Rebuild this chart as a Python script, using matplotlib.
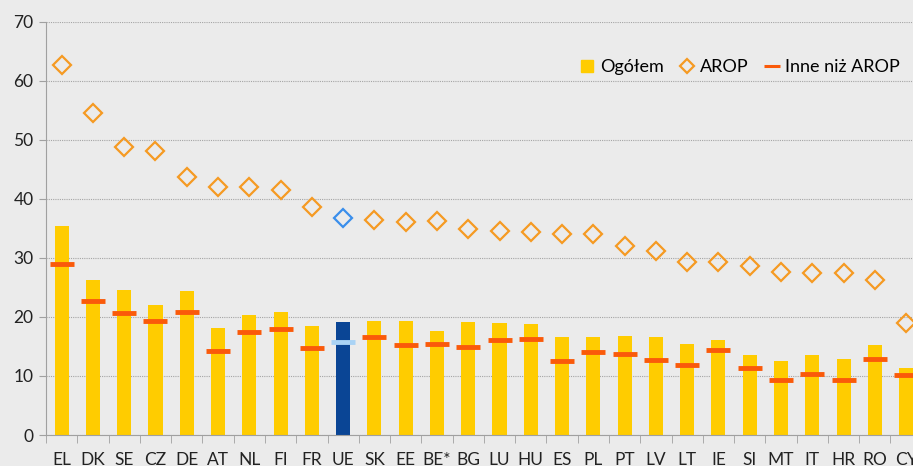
import numpy as np
import matplotlib.pyplot as plt
from matplotlib.lines import Line2D

countries = ["EL", "DK", "SE", "CZ", "DE", "AT", "NL", "FI", "FR", "UE", "SK", "EE", "BE*",
             "BG", "LU", "HU", "ES", "PL", "PT", "LV", "LT", "IE", "SI", "MT", "IT", "HR", "RO", "CY"]
ogolem = [35.5, 26.2, 24.6, 22.0, 24.4, 18.2, 20.4, 20.9, 18.5, 19.1, 19.4, 19.3, 17.7,
          19.2, 19.0, 18.8, 16.6, 16.6, 16.8, 16.6, 15.5, 16.1, 13.6, 12.5, 13.6, 12.9, 15.3, 11.3]
arop = [62.7, 54.6, 48.8, 48.1, 43.7, 42.0, 42.0, 41.5, 38.6, 36.7, 36.4, 36.1, 36.2,
        34.9, 34.6, 34.4, 34.0, 34.0, 32.0, 31.1, 29.3, 29.3, 28.6, 27.7, 27.5, 27.5, 26.2, 19.0]
inne = [28.9, 22.7, 20.6, 19.4, 20.9, 14.2, 17.5, 17.9, 14.7, 15.8, 16.6, 15.2, 15.5,
        14.9, 16.1, 16.3, 12.5, 14.1, 13.8, 12.7, 11.8, 14.4, 11.3, 9.4, 10.4, 9.3, 12.9, 10.1]

YELLOW = "#FFCC00"
NAVY = "#0A4595"
ORANGE = "#F59A23"
BLUE = "#3A8EEB"
RED = "#FA5A0A"
LIGHTBLUE = "#A9D3F5"
BG = "#EBEBEB"

plt.rcParams['font.family'] = ['Lato', 'DejaVu Sans']

def main():
    fig = plt.figure(figsize=(9.13, 4.66), dpi=100, facecolor=BG)
    ax = fig.add_axes([0.0504, 0.0665, 0.9496, 0.8865])
    ax.set_facecolor(BG)

    x = np.arange(len(countries))
    eu = countries.index("UE")
    bar_colors = [NAVY if c == "UE" else YELLOW for c in countries]
    ax.bar(x, ogolem, width=0.45, color=bar_colors, zorder=2)

    others = [i for i in x if i != eu]
    ax.plot(x[others], np.array(arop)[others], linestyle="none", marker="D", ms=9.5,
            mfc="none", mec=ORANGE, mew=1.6, zorder=3)
    ax.plot([eu], [arop[eu]], linestyle="none", marker="D", ms=9.5,
            mfc="none", mec=BLUE, mew=1.6, zorder=3)

    ax.plot(x[others], np.array(inne)[others], linestyle="none", marker="_", ms=17,
            mec=RED, mew=3.5, zorder=4)
    ax.plot([eu], [inne[eu]], linestyle="none", marker="_", ms=17,
            mec=LIGHTBLUE, mew=3.5, zorder=4)

    ax.set_yticks(range(0, 71, 10))
    ax.set_xticks(x)
    ax.set_xticklabels(countries)
    ax.set_xticks(np.arange(-0.5, len(countries), 1.0), minor=True)
    # limits after ticks, otherwise set_xticks widens the view
    ax.set_ylim(0, 70)
    ax.set_xlim(-0.5, len(countries) - 1 + 0.22)
    ax.tick_params(axis="x", which="major", length=0, pad=12, labelsize=12.5, colors="#222222")
    ax.tick_params(axis="x", which="minor", length=6, color="#A0A0A0")
    ax.tick_params(axis="y", length=5, color="#A0A0A0", labelsize=12.5, labelcolor="#222222", pad=4)

    ax.grid(axis="y", linestyle=(0, (1, 1)), color="#A5A5A5", linewidth=0.8, zorder=0)
    for s in ["top", "right"]:
        ax.spines[s].set_visible(False)
    ax.spines["left"].set_color("#A0A0A0")
    ax.spines["bottom"].set_color("#A0A0A0")

    handles = [
        Line2D([], [], linestyle="none", marker="s", ms=8, mfc=YELLOW, mec=YELLOW),
        Line2D([], [], linestyle="none", marker="D", ms=7, mfc="none", mec=ORANGE, mew=1.6),
        Line2D([], [], linestyle="none", marker="_", ms=11, mec=RED, mew=2.2),
    ]
    ax.legend(handles, ["Ogółem", "AROP", "Inne niż AROP"], ncol=3, frameon=False,
              loc="center right", bbox_to_anchor=(1.003, 0.89), fontsize=13,
              handlelength=0.8, handletextpad=0.3, columnspacing=0.9)

    fig.savefig("out.png", dpi=100, facecolor=BG)

if __name__ == '__main__':
    main()
